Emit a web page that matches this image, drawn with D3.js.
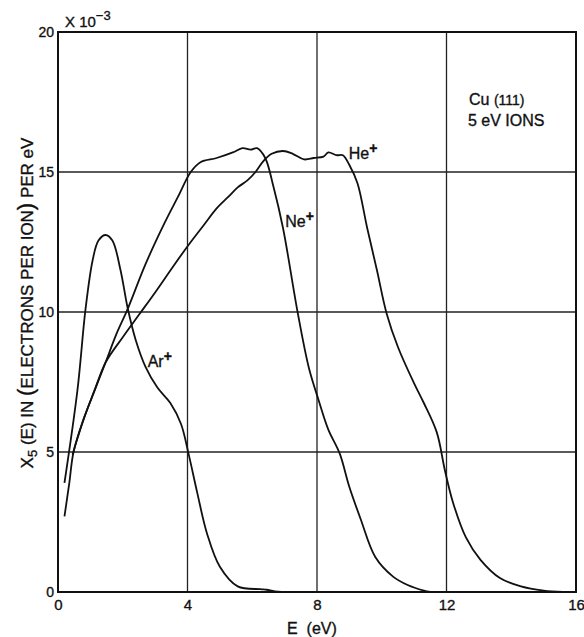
<!DOCTYPE html>
<html>
<head>
<meta charset="utf-8">
<script src="https://cdn.jsdelivr.net/npm/d3@7"></script>
<style>
  html, body { margin: 0; padding: 0; background: #fff; }
  svg { display: block; }
  text { font-family: "Liberation Sans", Arial, sans-serif; fill: #111; stroke: #111; stroke-width: 0.35px; }
</style>
</head>
<body>
<svg id="chart" width="584" height="637"></svg>
<script>
// Energy distribution of ejected electrons, Cu(111), 5 eV ions
const xTicks = [0, 4, 8, 12, 16];
const yTicks = [0, 5, 10, 15, 20];

// [E (eV), X5(E) in units of 1e-3 electrons per ion per eV]
const heSeries = [
  [0.2, 2.7], [0.35, 3.9], [0.48, 5.0], [0.8, 6.2], [1.13, 7.2], [1.47, 8.2],
  [2.0, 9.1], [2.5, 9.9], [3.0, 10.7], [3.6, 11.7], [4.1, 12.5], [4.5, 13.1],
  [4.9, 13.7], [5.25, 14.1], [5.55, 14.45], [5.85, 14.7], [6.1, 15.0], [6.35, 15.4],
  [6.6, 15.65], [6.95, 15.75], [7.25, 15.65], [7.6, 15.45], [7.9, 15.5], [8.2, 15.55],
  [8.35, 15.7], [8.6, 15.6], [8.8, 15.6], [9.0, 15.25], [9.25, 14.6], [9.55, 13.0],
  [9.85, 11.5], [10.15, 9.95], [10.5, 8.75], [11.0, 7.45], [11.3, 6.75], [11.7, 5.7],
  [11.95, 4.35], [12.2, 3.2], [12.6, 1.95], [13.05, 1.15], [13.65, 0.5], [14.3, 0.2],
  [15.0, 0.05], [15.6, 0.0]
];

const neSeries = [
  [0.45, 4.9], [0.55, 5.3], [0.8, 6.2], [1.13, 7.2], [1.47, 8.2], [1.8, 9.2],
  [2.15, 10.1], [2.7, 11.7], [3.3, 13.2], [3.7, 14.1], [4.1, 15.0], [4.4, 15.35],
  [4.9, 15.5], [5.4, 15.7], [5.7, 15.85], [5.95, 15.8], [6.15, 15.85], [6.4, 15.5],
  [6.65, 14.5], [6.95, 13.0], [7.4, 10.0], [7.75, 8.0], [8.05, 6.85], [8.35, 5.8],
  [8.7, 4.95], [9.0, 3.75], [9.35, 2.6], [9.8, 1.25], [10.35, 0.55], [10.8, 0.25],
  [11.3, 0.05], [11.5, 0.0]
];

const arSeries = [
  [0.2, 3.9], [0.6, 7.2], [0.85, 10.1], [1.07, 11.85], [1.25, 12.55], [1.47, 12.75],
  [1.68, 12.55], [1.93, 11.5], [2.15, 10.15], [2.4, 9.0], [2.7, 8.05], [3.07, 7.3],
  [3.47, 6.75], [3.8, 6.0], [4.03, 4.95], [4.3, 3.55], [4.6, 2.1], [5.0, 0.9],
  [5.55, 0.2], [6.25, 0.1], [6.45, 0.08], [6.7, 0.02], [7.3, 0.0]
];

const seriesNames = ["He", "Ne", "Ar"];
const seriesData = [heSeries, neSeries, arSeries];

const svg = d3.select("#chart");
const margin = { left: 58, right: 8, top: 32, bottom: 45 };
const W = 584, H = 637;

const x = d3.scaleLinear().domain([0, 16]).range([margin.left, W - margin.right]);
const y = d3.scaleLinear().domain([0, 20]).range([H - margin.bottom, margin.top]);

// grid
const grid = svg.append("g").attr("stroke", "#222").attr("stroke-width", 1.3);
grid.selectAll("line.v").data(xTicks.slice(1, -1)).join("line")
  .attr("x1", d => x(d)).attr("x2", d => x(d))
  .attr("y1", y(0)).attr("y2", y(20));
grid.selectAll("line.h").data(yTicks.slice(1, -1)).join("line")
  .attr("x1", x(0)).attr("x2", x(16))
  .attr("y1", d => y(d)).attr("y2", d => y(d));

// frame
svg.append("rect")
  .attr("x", x(0)).attr("y", y(20))
  .attr("width", x(16) - x(0)).attr("height", y(0) - y(20))
  .attr("fill", "none").attr("stroke", "#111").attr("stroke-width", 2);

// axes (labels only, frame drawn above)
const xAxis = d3.axisBottom(x).tickValues(xTicks).tickSize(0).tickPadding(7);
const gx = svg.append("g").attr("transform", `translate(0,${y(0)})`).call(xAxis);
gx.select(".domain").remove();
gx.selectAll("text").style("font-size", "15px").style("font-family", "Liberation Sans, Arial, sans-serif").attr("fill", "#111");

const yAxis = d3.axisLeft(y).tickValues(yTicks).tickSize(0).tickPadding(4);
const gy = svg.append("g").attr("transform", `translate(${x(0)},0)`).call(yAxis);
gy.select(".domain").remove();
gy.selectAll("text").style("font-size", "14px").style("font-family", "Liberation Sans, Arial, sans-serif").attr("fill", "#111");

// scale multiplier
const mult = svg.append("text").attr("x", 65).attr("y", 27).style("font-size", "15px");
mult.append("tspan").text("X 10");
mult.append("tspan").attr("dy", -7).style("font-size", "13px").text("−3");

// curves
const line = d3.line()
  .x(d => x(d[0])).y(d => y(d[1]))
  .curve(d3.curveCatmullRom.alpha(0.5));

svg.append("g").selectAll("path").data(seriesData).join("path")
  .attr("d", line)
  .attr("fill", "none").attr("stroke", "#111")
  .attr("stroke-width", 1.8).attr("stroke-linejoin", "round");

// curve labels
const labels = [
  { name: seriesNames[0], e: 8.98, v: 15.45 },
  { name: seriesNames[1], e: 7.02, v: 13.05 },
  { name: seriesNames[2], e: 2.77, v: 8.05 }
];
labels.forEach(l => {
  const t = svg.append("text").attr("x", x(l.e)).attr("y", y(l.v)).style("font-size", "16px");
  t.append("tspan").text(l.name);
  t.append("tspan").attr("dy", -6).style("font-size", "14px").style("font-weight", "bold").text("+");
});

// annotation
const ann = svg.append("g").style("font-size", "16px");
const a1 = ann.append("text").attr("x", 469).attr("y", 105);
a1.append("tspan").text("Cu ");
a1.append("tspan").style("font-size", "14px").text("(111)");
ann.append("text").attr("x", 468).attr("y", 126).text("5 eV IONS");

// axis titles
svg.append("text").attr("x", 287).attr("y", 634).style("font-size", "16px")
  .attr("xml:space", "preserve").text("E  (eV)");

const yl = svg.append("text")
  .attr("transform", "translate(33,303) rotate(-90)")
  .attr("text-anchor", "middle").style("font-size", "17px");
yl.append("tspan").text("X");
yl.append("tspan").attr("dy", 4).style("font-size", "13px").text("5");
yl.append("tspan").attr("dy", -4).text(" (E) IN ");
yl.append("tspan").style("font-size", "22px").text("(");
yl.append("tspan").text("ELECTRONS PER ION");
yl.append("tspan").style("font-size", "22px").text(")");
yl.append("tspan").text(" PER eV");
</script>
</body>
</html>
